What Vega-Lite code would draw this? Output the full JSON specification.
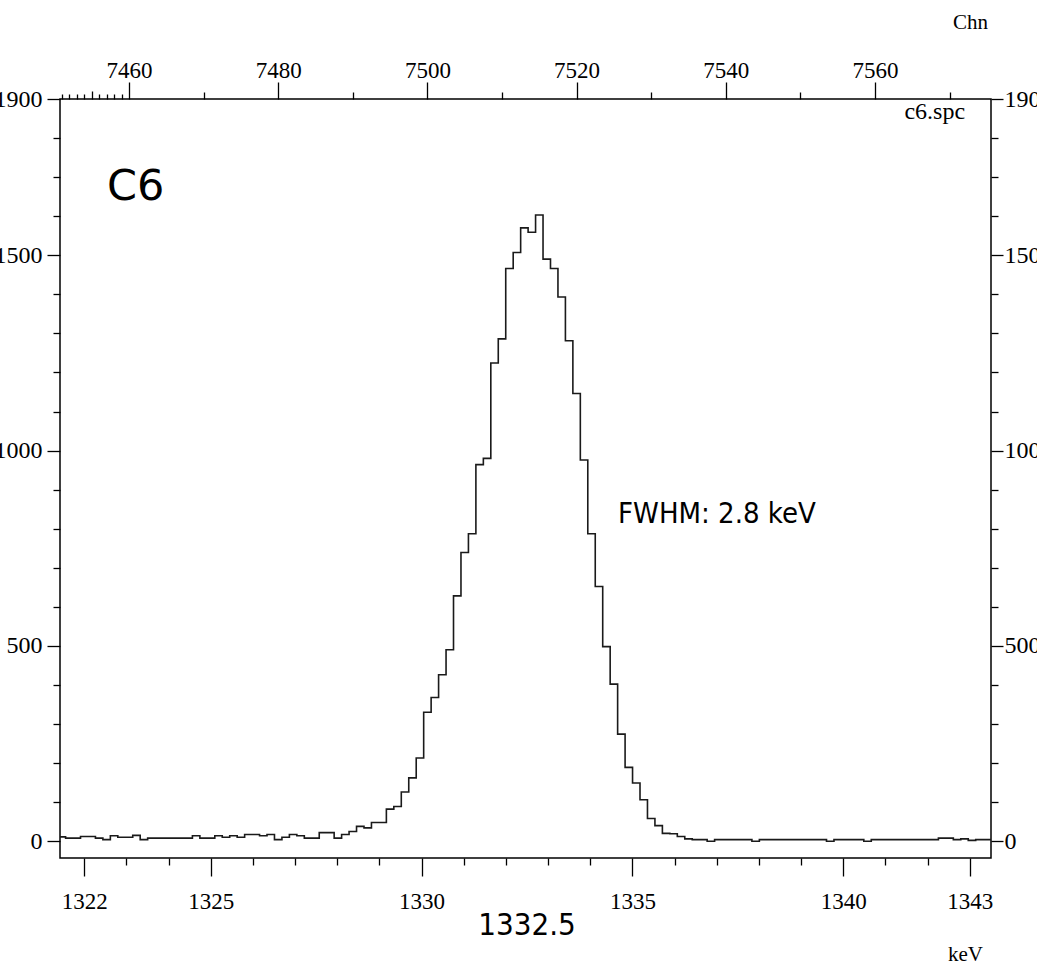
{
  "$schema": "https://vega.github.io/schema/vega-lite/v6.json",
  "width": 931,
  "height": 759,
  "autosize": "none",
  "padding": {"left": 60, "top": 99, "right": 46, "bottom": 108},
  "background": "white",
  "config": {
    "view": {"stroke": "#000", "strokeWidth": 1.5},
    "axis": {
      "grid": false,
      "domain": false,
      "labelFont": "Liberation Serif",
      "labelFontSize": 23,
      "labelColor": "#000",
      "tickColor": "#000",
      "tickWidth": 1.3,
      "labelOverlap": false,
      "labelFlush": false,
      "labelBound": false,
      "titleFont": "Liberation Serif",
      "titleFontSize": 21,
      "titleFontWeight": "normal",
      "titleColor": "#000"
    }
  },
  "datasets": {
    "spectrum": [
      {"chn": 7450, "counts": 10}, {"chn": 7451, "counts": 11}, {"chn": 7452, "counts": 8}, {"chn": 7453, "counts": 8},
      {"chn": 7454, "counts": 12}, {"chn": 7455, "counts": 12}, {"chn": 7456, "counts": 8}, {"chn": 7457, "counts": 4},
      {"chn": 7458, "counts": 14}, {"chn": 7459, "counts": 10}, {"chn": 7460, "counts": 10}, {"chn": 7461, "counts": 15},
      {"chn": 7462, "counts": 4}, {"chn": 7463, "counts": 8}, {"chn": 7464, "counts": 8}, {"chn": 7465, "counts": 8},
      {"chn": 7466, "counts": 8}, {"chn": 7467, "counts": 8}, {"chn": 7468, "counts": 8}, {"chn": 7469, "counts": 14},
      {"chn": 7470, "counts": 8}, {"chn": 7471, "counts": 8}, {"chn": 7472, "counts": 14}, {"chn": 7473, "counts": 10},
      {"chn": 7474, "counts": 14}, {"chn": 7475, "counts": 10}, {"chn": 7476, "counts": 17}, {"chn": 7477, "counts": 17},
      {"chn": 7478, "counts": 14}, {"chn": 7479, "counts": 17}, {"chn": 7480, "counts": 4}, {"chn": 7481, "counts": 10},
      {"chn": 7482, "counts": 17}, {"chn": 7483, "counts": 14}, {"chn": 7484, "counts": 8}, {"chn": 7485, "counts": 8},
      {"chn": 7486, "counts": 22}, {"chn": 7487, "counts": 22}, {"chn": 7488, "counts": 8}, {"chn": 7489, "counts": 17},
      {"chn": 7490, "counts": 25}, {"chn": 7491, "counts": 38}, {"chn": 7492, "counts": 34}, {"chn": 7493, "counts": 48},
      {"chn": 7494, "counts": 48}, {"chn": 7495, "counts": 82}, {"chn": 7496, "counts": 89}, {"chn": 7497, "counts": 126},
      {"chn": 7498, "counts": 162}, {"chn": 7499, "counts": 213}, {"chn": 7500, "counts": 330}, {"chn": 7501, "counts": 368},
      {"chn": 7502, "counts": 426}, {"chn": 7503, "counts": 490}, {"chn": 7504, "counts": 628}, {"chn": 7505, "counts": 739},
      {"chn": 7506, "counts": 787}, {"chn": 7507, "counts": 964}, {"chn": 7508, "counts": 980}, {"chn": 7509, "counts": 1224},
      {"chn": 7510, "counts": 1286}, {"chn": 7511, "counts": 1466}, {"chn": 7512, "counts": 1507}, {"chn": 7513, "counts": 1570},
      {"chn": 7514, "counts": 1559}, {"chn": 7515, "counts": 1603}, {"chn": 7516, "counts": 1490}, {"chn": 7517, "counts": 1466},
      {"chn": 7518, "counts": 1393}, {"chn": 7519, "counts": 1281}, {"chn": 7520, "counts": 1146}, {"chn": 7521, "counts": 976},
      {"chn": 7522, "counts": 787}, {"chn": 7523, "counts": 652}, {"chn": 7524, "counts": 498}, {"chn": 7525, "counts": 402},
      {"chn": 7526, "counts": 274}, {"chn": 7527, "counts": 189}, {"chn": 7528, "counts": 149}, {"chn": 7529, "counts": 106},
      {"chn": 7530, "counts": 58}, {"chn": 7531, "counts": 40}, {"chn": 7532, "counts": 20}, {"chn": 7533, "counts": 19},
      {"chn": 7534, "counts": 12}, {"chn": 7535, "counts": 6}, {"chn": 7536, "counts": 4}, {"chn": 7537, "counts": 4},
      {"chn": 7538, "counts": 0}, {"chn": 7539, "counts": 4}, {"chn": 7540, "counts": 4}, {"chn": 7541, "counts": 4},
      {"chn": 7542, "counts": 4}, {"chn": 7543, "counts": 4}, {"chn": 7544, "counts": 0}, {"chn": 7545, "counts": 4},
      {"chn": 7546, "counts": 4}, {"chn": 7547, "counts": 4}, {"chn": 7548, "counts": 4}, {"chn": 7549, "counts": 4},
      {"chn": 7550, "counts": 4}, {"chn": 7551, "counts": 4}, {"chn": 7552, "counts": 4}, {"chn": 7553, "counts": 4},
      {"chn": 7554, "counts": 0}, {"chn": 7555, "counts": 4}, {"chn": 7556, "counts": 4}, {"chn": 7557, "counts": 4},
      {"chn": 7558, "counts": 4}, {"chn": 7559, "counts": 0}, {"chn": 7560, "counts": 4}, {"chn": 7561, "counts": 4},
      {"chn": 7562, "counts": 4}, {"chn": 7563, "counts": 4}, {"chn": 7564, "counts": 4}, {"chn": 7565, "counts": 4},
      {"chn": 7566, "counts": 4}, {"chn": 7567, "counts": 4}, {"chn": 7568, "counts": 4}, {"chn": 7569, "counts": 8},
      {"chn": 7570, "counts": 8}, {"chn": 7571, "counts": 4}, {"chn": 7572, "counts": 6}, {"chn": 7573, "counts": 2},
      {"chn": 7574, "counts": 4}, {"chn": 7575, "counts": 4}, {"chn": 7576, "counts": 4}
    ]
  },
  "layer": [
    {
      "data": {"name": "spectrum"},
      "mark": {"type": "line", "interpolate": "step", "color": "#1a1a1a", "strokeWidth": 1.6, "clip": true},
      "encoding": {
        "x": {
          "field": "chn",
          "type": "quantitative",
          "scale": {"domain": [7450.75, 7575.55], "nice": false, "zero": false},
          "axis": {
            "orient": "top",
            "values": [7451, 7452, 7453, 7454, 7455, 7456, 7457, 7458, 7459, 7460, 7470, 7480, 7490, 7500, 7510, 7520, 7530, 7540, 7550, 7560, 7570],
            "format": "d",
            "labelExpr": "datum.value % 20 === 0 ? datum.label : ''",
            "tickSize": {
              "condition": [
                {"test": "datum.value % 20 === 0", "value": 17},
                {"test": "datum.value % 10 === 0", "value": 7},
                {"test": "datum.value === 7455", "value": 8}
              ],
              "value": 5
            },
            "labelPadding": 0,
            "title": "Chn",
            "titleX": 910,
            "titleY": -71,
            "titleAlign": "center",
            "titleBaseline": "alphabetic"
          }
        },
        "y": {
          "field": "counts",
          "type": "quantitative",
          "scale": {"domain": [-43, 1900], "nice": false, "zero": false},
          "axis": {
            "orient": "left",
            "values": [0, 100, 200, 300, 400, 500, 600, 700, 800, 900, 1000, 1100, 1200, 1300, 1400, 1500, 1600, 1700, 1800, 1900],
            "format": "d",
            "labelExpr": "datum.value % 500 === 0 || datum.value === 1900 ? datum.label : ''",
            "tickSize": {"condition": {"test": "datum.value % 500 === 0 || datum.value === 1900", "value": 13}, "value": 7},
            "labelPadding": 5,
            "labelFontSize": 24,
            "title": null
          }
        }
      }
    },
    {
      "encoding": {
        "x": {
          "field": "keV",
          "type": "quantitative",
          "scale": {"domain": [1321.424, 1343.505], "nice": false, "zero": false},
          "axis": {
            "orient": "bottom",
            "values": [1322, 1323, 1324, 1325, 1326, 1327, 1328, 1329, 1330, 1331, 1332, 1333, 1334, 1335, 1336, 1337, 1338, 1339, 1340, 1341, 1342, 1343],
            "format": "d",
            "labelExpr": "indexof([1322, 1325, 1330, 1335, 1340, 1343], datum.value) >= 0 ? datum.label : ''",
            "tickSize": {"condition": {"test": "indexof([1322, 1325, 1330, 1335, 1340, 1343], datum.value) >= 0", "value": 18}, "value": 7},
            "labelPadding": 14,
            "title": "keV",
            "titleX": 905,
            "titleY": 102,
            "titleAlign": "center",
            "titleBaseline": "alphabetic"
          }
        },
        "y": {
          "field": "counts",
          "type": "quantitative",
          "scale": {"domain": [-43, 1900], "nice": false, "zero": false},
          "axis": {
            "orient": "right",
            "values": [0, 100, 200, 300, 400, 500, 600, 700, 800, 900, 1000, 1100, 1200, 1300, 1400, 1500, 1600, 1700, 1800, 1900],
            "format": "d",
            "labelExpr": "datum.value % 500 === 0 || datum.value === 1900 ? datum.label : ''",
            "tickSize": {"condition": {"test": "datum.value % 500 === 0 || datum.value === 1900", "value": 12}, "value": 7},
            "labelPadding": 1,
            "labelFontSize": 24,
            "title": null
          }
        },
        "text": {"field": "label"}
      },
      "layer": [
        {
          "data": {"values": [{"keV": 1322.54, "counts": 1641, "label": "C6"}]},
          "mark": {"type": "text", "font": "Comic Sans MS, DejaVu Sans", "fontSize": 43, "align": "left", "baseline": "alphabetic", "color": "#000"}
        },
        {
          "data": {"values": [{"keV": 1342.89, "counts": 1849, "label": "c6.spc"}]},
          "mark": {"type": "text", "font": "Liberation Serif", "fontSize": 24, "align": "right", "baseline": "alphabetic", "color": "#000"}
        },
        {
          "data": {"values": [{"keV": 1334.66, "counts": 815, "label": "FWHM: 2.8 keV"}]},
          "mark": {"type": "text", "font": "DejaVu Sans Condensed, DejaVu Sans", "fontSize": 29, "align": "left", "baseline": "alphabetic", "color": "#000"}
        },
        {
          "data": {"values": [{"keV": 1332.5, "counts": -240, "label": "1332.5"}]},
          "mark": {"type": "text", "font": "DejaVu Sans Condensed, DejaVu Sans", "fontSize": 31, "align": "center", "baseline": "alphabetic", "color": "#000"}
        }
      ]
    }
  ],
  "resolve": {
    "scale": {"x": "independent", "y": "independent"},
    "axis": {"x": "independent", "y": "independent"}
  }
}
